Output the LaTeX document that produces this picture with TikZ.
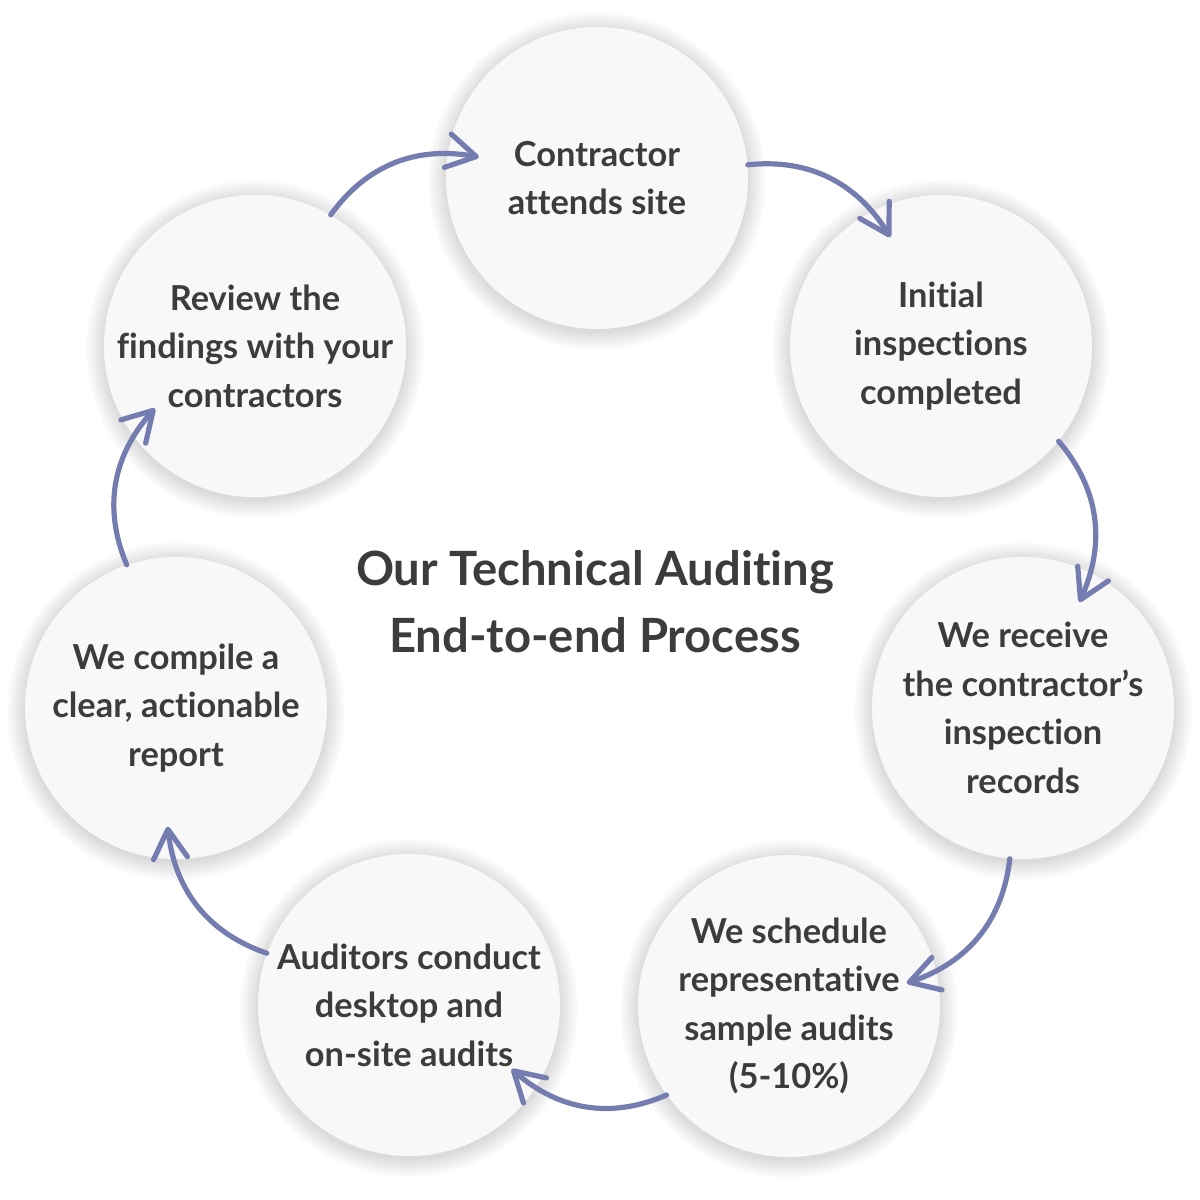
\documentclass[tikz,border=0pt]{standalone}
\usepackage{fontspec}
\setmainfont{Lato}[Ligatures=NoCommon]
\usepackage{xcolor}
\usetikzlibrary{arrows.meta,bending,calc}
\definecolor{flowblue}{RGB}{116,124,176}
\definecolor{inkgray}{RGB}{60,60,60}
\definecolor{discfill}{RGB}{248,248,248}
\pgfdeclarelayer{back}
\pgfsetlayers{back,main}

\begin{document}
\begin{tikzpicture}[x=0.5pt,y=0.5pt,
    stage/.style={circle, fill=discfill, minimum size=151pt, inner sep=0pt,
      align=center, text=inkgray, font=\fontsize{17.2}{24.25}\selectfont\bfseries},
    flow/.style={draw=flowblue, line width=2.6pt, line cap=round, bend left=33,
      -{Straight Barb[length=14.5pt,width=17pt,line cap=round,line join=round]}}]

  \useasboundingbox (0,0) rectangle (1200,1200);

  % the seven steps, clockwise from the top
  \node[stage] (c1) at (597,1022) {Contractor\\attends site};
  \node[stage] (c2) at (941,854) {Initial\\inspections\\completed};
  \node[stage] (c3) at (1023,492) {We receive\\the contractor’s\\inspection\\records};
  \node[stage] (c4) at (789,194) {We schedule\\representative\\sample audits\\(5-10\%)};
  \node[stage] (c5) at (409,195) {Auditors conduct\\desktop and\\on-site audits};
  \node[stage] (c6) at (176,492) {We compile a\\clear, actionable\\report};
  \node[stage] (c7) at (255,854) {Review the\\findings with your\\contractors};

  \node[align=center, text=inkgray, font=\fontsize{23.6}{33.5}\selectfont\bfseries]
    (title) at (595,598) {Our Technical Auditing\\End-to-end Process};

  % soft shadows behind the discs
  \begin{pgfonlayer}{back}
    \foreach \n in {c1,c2,c3,c4,c5,c6,c7}
      \foreach \k in {1,...,12}
        \fill[black, opacity=0.013] ([yshift=-1.5pt]\n.center) circle [radius=150+1.6*\k];
  \end{pgfonlayer}

  \draw[flow] (c7.60) to ($(c1.center)+(170:120)$);
  \draw[flow] (c1.5) to ($(c2.center)+(115:120)$);
  \draw[flow] (c2.-39) to ($(c3.center)+(62:120)$);
  \draw[flow] (c3.-95) to ($(c4.center)+(11:120)$);
  \draw[flow] (c4.216) to ($(c5.center)+(-32:121)$);
  \draw[flow] (c5.160) to ($(c6.center)+(-94:119)$);
  \draw[flow] (c6.109) to ($(c7.center)+(212:118)$);
\end{tikzpicture}
\end{document}
